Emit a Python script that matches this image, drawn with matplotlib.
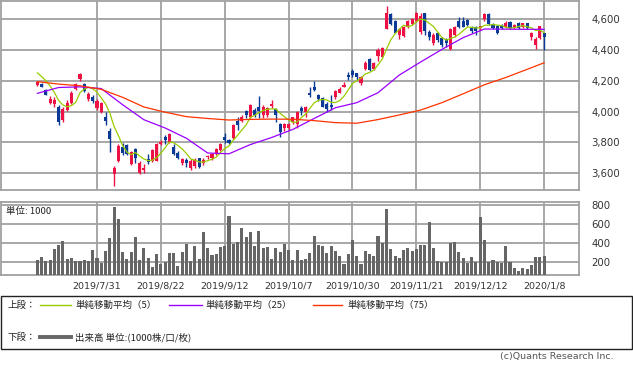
import numpy as np
import matplotlib
matplotlib.use("Agg")
import matplotlib.pyplot as plt
from matplotlib.patches import Rectangle
from matplotlib.lines import Line2D
from matplotlib.ticker import FuncFormatter

plt.rcParams['font.family'] = ['DejaVu Sans', 'Noto Sans CJK JP']

# ---------------- data ----------------
opens = [4175, 4180, 4141, 4056, 4049, 4032, 3945, 4010, 4058, 4145,
         4212, 4178, 4080, 4097, 4021, 4000, 3962, 3876, 3595, 3680,
         3770, 3780, 3660, 3755, 3600, 3622, 3688, 3680, 3680, 3790,
         3835, 3804, 3772, 3733, 3667, 3685, 3630, 3646, 3695, 3667,
         3702, 3698, 3724, 3750, 3833, 3815, 3826, 3941, 3941, 4004,
         3963, 4010, 4032, 3978, 3978, 4037, 4015, 3919, 3891, 3891,
         3935, 3919, 4025, 3999, 4123, 4158, 4108, 4091, 4049, 4040,
         4093, 4123, 4158, 4238, 4267, 4249, 4184, 4277, 4340, 4277,
         4362, 4358, 4538, 4636, 4590, 4499, 4492, 4549, 4571, 4592,
         4520, 4640, 4521, 4445, 4510, 4477, 4471, 4406, 4499, 4592,
         4592, 4597, 4542, 4549, 4542, 4601, 4636, 4571, 4558, 4564,
         4553, 4586, 4542, 4579, 4553, 4575, 4488, 4434, 4477, 4510]
highs = [4199, 4184, 4145, 4101, 4097, 4043, 4032, 4075, 4134, 4185,
         4249, 4185, 4130, 4110, 4080, 4060, 3999, 3891, 3648, 3790,
         3795, 3790, 3745, 3761, 3675, 3660, 3724, 3758, 3795, 3812,
         3848, 3863, 3790, 3745, 3698, 3696, 3690, 3695, 3700, 3700,
         3720, 3730, 3765, 3795, 3859, 3820, 3920, 3967, 3975, 4010,
         4050, 4021, 4102, 4040, 4032, 4076, 4021, 3924, 3924, 3924,
         3967, 4006, 4036, 4036, 4158, 4201, 4115, 4097, 4065, 4108,
         4140, 4158, 4195, 4260, 4275, 4253, 4232, 4332, 4347, 4325,
         4412, 4419, 4688, 4640, 4597, 4542, 4558, 4597, 4608, 4651,
         4640, 4645, 4532, 4510, 4521, 4488, 4477, 4545, 4558, 4618,
         4614, 4603, 4558, 4558, 4560, 4644, 4640, 4580, 4565, 4570,
         4590, 4592, 4570, 4586, 4580, 4580, 4521, 4484, 4558, 4510]
lows = [4167, 4158, 4106, 4047, 4032, 3911, 3934, 4004, 4050, 4140,
        4201, 4125, 4070, 4055, 4010, 3990, 3913, 3739, 3518, 3672,
        3718, 3715, 3650, 3664, 3590, 3600, 3659, 3670, 3675, 3780,
        3789, 3793, 3715, 3690, 3650, 3637, 3620, 3635, 3632, 3650,
        3690, 3685, 3720, 3745, 3794, 3790, 3820, 3880, 3935, 3956,
        3955, 3967, 3956, 3960, 3967, 4021, 3935, 3837, 3876, 3880,
        3919, 3891, 3978, 3967, 4097, 4136, 4071, 4028, 4000, 4010,
        4085, 4118, 4158, 4206, 4228, 4206, 4173, 4271, 4267, 4271,
        4330, 4353, 4538, 4564, 4510, 4471, 4488, 4542, 4564, 4586,
        4505, 4499, 4466, 4434, 4455, 4423, 4423, 4401, 4488, 4542,
        4549, 4560, 4510, 4499, 4530, 4592, 4564, 4538, 4505, 4538,
        4545, 4538, 4535, 4538, 4545, 4538, 4466, 4406, 4470, 4401]
closes = [4193, 4162, 4110, 4082, 4075, 3930, 4017, 4054, 4119, 4178,
          4245, 4135, 4115, 4069, 4071, 4054, 3941, 3822, 3630, 3776,
          3730, 3725, 3735, 3700, 3665, 3632, 3670, 3748, 3788, 3805,
          3812, 3854, 3726, 3698, 3691, 3663, 3680, 3685, 3641, 3685,
          3711, 3724, 3756, 3789, 3815, 3794, 3913, 3913, 3963, 3978,
          4041, 3978, 4004, 4032, 4021, 4050, 3978, 3865, 3919, 3919,
          3963, 4000, 4004, 4032, 4108, 4141, 4082, 4032, 4015, 4030,
          4136, 4145, 4173, 4223, 4238, 4228, 4223, 4314, 4271, 4314,
          4401, 4412, 4640, 4571, 4515, 4536, 4553, 4592, 4603, 4644,
          4620, 4527, 4484, 4499, 4466, 4434, 4445, 4536, 4549, 4553,
          4553, 4564, 4527, 4527, 4558, 4636, 4571, 4542, 4510, 4542,
          4579, 4542, 4564, 4542, 4575, 4542, 4510, 4471, 4558, 4488]
volume = [225, 256, 218, 225, 340, 382, 425, 235, 245, 214,
          214, 225, 214, 330, 245, 193, 320, 456, 782, 656,
          309, 235, 309, 467, 225, 351, 245, 151, 288, 182,
          204, 298, 298, 161, 309, 393, 214, 372, 235, 519,
          351, 277, 288, 361, 372, 688, 393, 414, 561, 467,
          519, 372, 530, 351, 361, 235, 351, 309, 393, 330,
          225, 330, 225, 235, 298, 477, 382, 372, 298, 372,
          320, 267, 182, 288, 435, 267, 182, 320, 288, 267,
          477, 404, 761, 340, 267, 245, 330, 351, 320, 340,
          382, 382, 625, 351, 214, 204, 204, 404, 414, 309,
          245, 193, 256, 204, 677, 435, 204, 225, 204, 193,
          372, 204, 140, 109, 140, 130, 172, 256, 256, 267]

# MA5 values at the first four days (earlier data not shown)
ma5_head = [4252, 4228, 4201, 4166]
# MA25 / MA75 at every 5th session
ma_idx = [0, 5, 10, 15, 20, 25, 30, 35, 40, 45, 50, 55, 60, 65, 70, 75,
          80, 85, 90, 95, 100, 105, 110, 115, 119]
ma25 = [4119, 4157, 4161, 4150, 4045, 3947, 3893, 3826, 3730, 3725,
        3785, 3831, 3884, 3955, 4025, 4058, 4123, 4238, 4323, 4405,
        4482, 4538, 4537, 4536, 4536]
ma75 = [4195, 4179, 4168, 4145, 4093, 4030, 3996, 3967, 3955, 3945,
        3949, 3951, 3950, 3941, 3928, 3924, 3948, 3978, 4010, 4058,
        4116, 4175, 4222, 4275, 4318]

tick_idx = [14, 29, 44, 59, 74, 89, 104, 119]
tick_labels = ["2019/7/31", "2019/8/22", "2019/9/12", "2019/10/7",
               "2019/10/30", "2019/11/21", "2019/12/12", "2020/1/8"]
price_ticks = [3600, 3800, 4000, 4200, 4400, 4600]
vol_ticks = [200, 400, 600, 800]

# ---------------- style ----------------
W, H = 633, 368
RED = '#EE1144'
BLUE = '#0A3A96'
C5 = '#99CC00'
C25 = '#9900FF'
C75 = '#FF3300'
GRID = '#A0A0A0'
VOLC = '#666666'

def fx(x):
    return x / W

def fy(y):
    return 1 - y / H

fig = plt.figure(figsize=(W / 100, H / 100), dpi=100)
ax1 = fig.add_axes([fx(1), fy(190), fx(578), 189 / H])
ax2 = fig.add_axes([fx(1), fy(275), fx(578), 73 / H])

n = len(closes)
x = np.arange(n)
o = np.array(opens); c = np.array(closes)
hi = np.array(highs); lo = np.array(lows)
up = c >= o
cols = np.where(up, RED, BLUE)

for ax in (ax1, ax2):
    ax.set_xlim(-8.55, 127.2)
    for s in ax.spines.values():
        s.set_color(GRID)
        s.set_linewidth(1.3)
    ax.set_xticks(tick_idx)
    ax.grid(True, color=GRID, linewidth=1.3)
    ax.set_axisbelow(True)
    ax.yaxis.tick_right()
    ax.tick_params(axis='both', length=0, colors='#333333')

# price panel
ax1.set_ylim(3489, 4720.5)
ax1.set_yticks(price_ticks)
ax1.yaxis.set_major_formatter(FuncFormatter(lambda v, p: f"{int(v):,}"))
ax1.tick_params(axis='y', labelsize=7.3, pad=9)
ax1.set_xticklabels([])
ax1.vlines(x, lo, hi, colors=cols, linewidth=1.0, zorder=3)
body = np.maximum(np.abs(c - o), 4)
ax1.bar(x, body, bottom=np.minimum(o, c), width=0.72, color=cols, zorder=4,
        linewidth=0)

ma5 = np.array(ma5_head + [np.mean(closes[i - 4:i + 1]) for i in range(4, n)])
ax1.plot(x, ma5, color=C5, linewidth=0.9, zorder=5)
ax1.plot(ma_idx, ma25, color=C25, linewidth=0.9, zorder=5)
ax1.plot(ma_idx, ma75, color=C75, linewidth=0.9, zorder=5)

# volume panel
ax2.set_ylim(66, 835)
ax2.set_yticks(vol_ticks)
ax2.tick_params(axis='y', labelsize=7.3, pad=9)
ax2.set_xticklabels(tick_labels, fontsize=6.8)
ax2.tick_params(axis='x', pad=5)
ax2.bar(x, volume, width=0.72, color=VOLC, linewidth=0, zorder=3)
ax2.text(0.008, 0.93, "単位: 1000", transform=ax2.transAxes,
         fontsize=6.8, va='top', ha='left', color='#222222',
         family=['Noto Sans CJK JP', 'DejaVu Sans'])

# legend box
fig.patches.append(Rectangle((fx(1), fy(349)), fx(631), 53 / H, transform=fig.transFigure,
                             fill=False, edgecolor='#222222', linewidth=1.0))
jp = ['Noto Sans CJK JP', 'DejaVu Sans']
row1, row2 = fy(305), fy(337)
fig.text(fx(8), row1, "上段：", fontsize=6.8, va='center', family=jp, color='#222222')
fig.text(fx(8), row2, "下段：", fontsize=6.8, va='center', family=jp, color='#222222')
for x0, x1, xt, col, lab in [(40, 71, 75, C5, "単純移動平均（5）"),
                             (169, 202, 205, C25, "単純移動平均（25）"),
                             (313, 342, 347, C75, "単純移動平均（75）")]:
    fig.lines.append(Line2D([fx(x0), fx(x1)], [row1, row1], transform=fig.transFigure,
                            color=col, linewidth=1.0))
    fig.text(fx(xt), row1, lab, fontsize=6.8, va='center', family=jp, color='#222222')
fig.lines.append(Line2D([fx(40), fx(71)], [row2, row2], transform=fig.transFigure,
                        color=VOLC, linewidth=2.8))
fig.text(fx(75), row2, "出来高 単位:(1000株/口/枚)", fontsize=6.8, va='center',
         family=jp, color='#222222')
fig.text(fx(614), fy(357), "(c)Quants Research Inc.", fontsize=6.8, ha='right',
         va='center', color='#555555')

fig.savefig("out.png", dpi=100)
